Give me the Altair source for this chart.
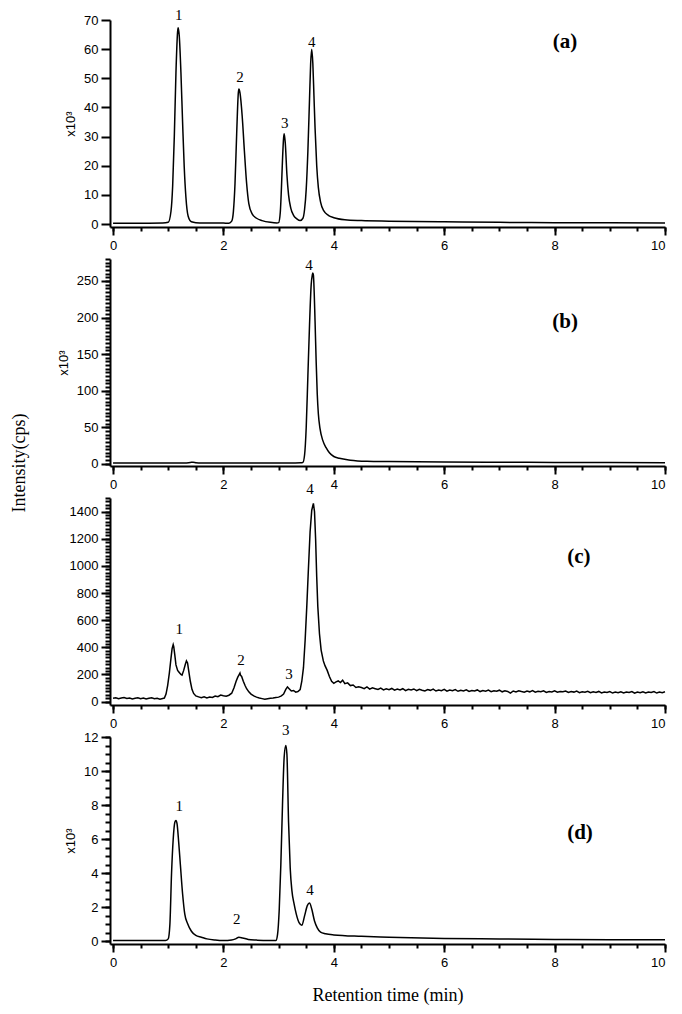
import altair as alt
import pandas as pd

SANS = "Liberation Sans"
SERIF = "Liberation Serif"

# ---------------- panel (a), intensity x10^3 ----------------
a_time = [0, 0.5, 0.9, 1.0, 1.05, 1.08, 1.11, 1.14, 1.17, 1.18,
          1.20, 1.23, 1.26, 1.29, 1.32, 1.36, 1.42, 1.5, 1.7, 2.0,
          2.1, 2.15, 2.18, 2.21, 2.24, 2.27, 2.28, 2.30, 2.34, 2.38,
          2.42, 2.46, 2.52, 2.6, 2.7, 2.85, 2.97, 3.0, 3.03, 3.05,
          3.07, 3.09, 3.10, 3.12, 3.15, 3.18, 3.22, 3.27, 3.33, 3.39,
          3.44, 3.47, 3.50, 3.53, 3.56, 3.58, 3.60, 3.62, 3.64, 3.66,
          3.69, 3.72, 3.76, 3.82, 3.9, 4.0, 4.2, 4.5, 5.0, 6.0,
          7.0, 8.0, 9.0, 10.0]
a_int = [0.3, 0.3, 0.35, 0.6, 4.4, 13, 30, 52, 66, 67.3,
         64.5, 52, 35, 19.5, 9.3, 2.8, 0.8, 0.5, 0.4, 0.35,
         0.3, 1, 4.2, 14, 31, 45, 46.3, 45, 37, 25,
         14, 7, 3.5, 2.0, 1.2, 0.6, 0.4, 0.5, 4, 12,
         22, 29.5, 31, 28, 17, 10, 5.5, 3, 1.8, 1.2,
         2, 5, 12, 25, 43, 55, 60, 55, 44, 33,
         20, 12.5, 7.5, 4.5, 3.0, 2.2, 1.5, 1.2, 1.0, 0.8,
         0.6, 0.5, 0.45, 0.4]

# ---------------- panel (b), intensity x10^3 ----------------
b_time = [0, 0.5, 1.0, 1.3, 1.4, 1.45, 1.5, 1.6, 2.0, 2.5,
          3.0, 3.3, 3.4, 3.44, 3.47, 3.50, 3.53, 3.56, 3.59, 3.61,
          3.62, 3.63, 3.66, 3.68, 3.70, 3.72, 3.75, 3.80, 3.86, 3.92,
          4.0, 4.1, 4.3, 4.6, 5.0, 6.0, 7.0, 8.0, 9.0, 10.0]
b_int = [1, 1, 1, 1.1, 1.8, 2.2, 1.6, 1.1, 1, 1,
         1, 1.1, 1.3, 2, 12, 50, 120, 190, 245, 258,
         261, 258, 195, 140, 95, 68, 48, 32, 22, 15,
         10, 7.5, 5, 3.5, 3, 2.4, 2.1, 1.9, 1.7, 1.5]

# ---------------- panel (c), intensity cps (noisy) ----------------
c1_time = [0.00, 0.05, 0.10, 0.15, 0.20, 0.25, 0.30, 0.35, 0.40, 0.45,
           0.50, 0.55, 0.60, 0.65, 0.70, 0.75, 0.80, 0.85, 0.90]
c1_int = [24, 28, 21, 26, 30, 23, 27, 20, 25, 29,
          22, 26, 19, 24, 28, 21, 25, 18, 23]
c2_time = [0.93, 0.96, 0.99, 1.02, 1.05, 1.07, 1.09, 1.10, 1.12, 1.14,
           1.17, 1.20, 1.23, 1.25, 1.28, 1.31, 1.33, 1.35, 1.37, 1.40,
           1.43, 1.46, 1.50, 1.55, 1.60, 1.65, 1.70, 1.75, 1.80, 1.85,
           1.90, 1.95, 2.00, 2.05, 2.10, 2.15, 2.19, 2.23, 2.26, 2.28,
           2.30, 2.31, 2.33, 2.36, 2.39, 2.42, 2.46, 2.50, 2.55, 2.60,
           2.65, 2.70, 2.75, 2.80, 2.85, 2.90, 2.95, 3.00, 3.05, 3.09,
           3.13, 3.16, 3.19, 3.23, 3.27, 3.31, 3.35, 3.39, 3.42, 3.45,
           3.48, 3.51, 3.54, 3.57, 3.60, 3.63, 3.65, 3.67, 3.69, 3.71,
           3.74, 3.77, 3.81, 3.84, 3.88, 3.92, 3.96, 4.00, 4.04, 4.08,
           4.12, 4.16, 4.20, 4.25, 4.30, 4.35, 4.40, 4.45]
c2_int = [26, 55, 120, 210, 320, 390, 420, 405, 340, 270,
          230, 215, 200, 195, 230, 275, 300, 285, 230, 150,
          90, 60, 42, 35, 28, 36, 27, 33, 30, 41,
          36, 48, 43, 40, 47, 62, 100, 150, 180, 195,
          210, 195, 185, 150, 120, 95, 72, 55, 42, 33,
          26, 22, 17, 21, 24, 27, 31, 33, 42, 55,
          90, 108, 95, 78, 82, 70, 74, 88, 150, 250,
          450, 700, 980, 1250, 1410, 1460, 1400, 1200, 920, 700,
          500, 380, 300, 265, 230, 185, 150, 135, 145, 152,
          140, 158, 132, 138, 118, 122, 104, 110]
c3_time = [4.50, 4.55, 4.60, 4.65, 4.70, 4.75, 4.80, 4.85, 4.90, 4.95,
           5.00, 5.05, 5.10, 5.15, 5.20, 5.25, 5.30, 5.35, 5.40, 5.45,
           5.50, 5.55, 5.60, 5.65, 5.70, 5.75, 5.80, 5.85, 5.90, 5.95,
           6.00, 6.05, 6.10, 6.15, 6.20, 6.25, 6.30, 6.35, 6.40, 6.45,
           6.50, 6.55, 6.60, 6.65, 6.70, 6.75, 6.80, 6.85, 6.90, 6.95,
           7.00, 7.05, 7.10, 7.15, 7.20, 7.25, 7.30, 7.35, 7.40, 7.45,
           7.50, 7.55, 7.60, 7.65, 7.70, 7.75, 7.80, 7.85, 7.90, 7.95,
           8.00, 8.05, 8.10, 8.15, 8.20, 8.25, 8.30, 8.35, 8.40, 8.45,
           8.50, 8.55, 8.60, 8.65, 8.70, 8.75, 8.80, 8.85, 8.90, 8.95,
           9.00, 9.05, 9.10, 9.15, 9.20, 9.25, 9.30, 9.35, 9.40, 9.45,
           9.50, 9.55, 9.60, 9.65, 9.70, 9.75, 9.80, 9.85, 9.90, 9.95,
           10.00]
c3_int = [104, 96, 108, 92, 101, 95, 89, 99, 86, 94,
          88, 97, 84, 92, 86, 95, 81, 90, 85, 93,
          80, 91, 84, 79, 89, 83, 92, 78, 86, 81,
          90, 77, 85, 80, 88, 76, 84, 79, 87, 75,
          82, 78, 86, 74, 81, 77, 85, 73, 80, 76,
          84, 72, 79, 75, 62, 78, 71, 80, 74, 69,
          78, 72, 81, 70, 76, 73, 80, 68, 75, 71,
          79, 69, 75, 72, 78, 67, 74, 70, 77, 66,
          73, 69, 76, 65, 72, 68, 75, 64, 71, 67,
          74, 63, 70, 66, 73, 64, 71, 67, 74, 62,
          70, 66, 73, 64, 71, 67, 74, 63, 70, 66,
          72]

# ---------------- panel (d), intensity x10^3 ----------------
d_time = [0, 0.5, 0.95, 1.00, 1.03, 1.06, 1.09, 1.12, 1.14, 1.16,
          1.19, 1.22, 1.26, 1.30, 1.35, 1.42, 1.5, 1.6, 1.7, 1.85,
          2.0, 2.15, 2.22, 2.28, 2.35, 2.45, 2.6, 2.8, 2.95, 2.98,
          3.01, 3.04, 3.07, 3.10, 3.13, 3.15, 3.18, 3.21, 3.24, 3.28,
          3.32, 3.37, 3.42, 3.47, 3.52, 3.56, 3.60, 3.65, 3.70, 3.76,
          3.85, 4.0, 4.5, 5.0, 6.0, 7.0, 8.0, 9.0, 10.0]
d_int = [0.05, 0.05, 0.05, 0.15, 1.0, 4.0, 6.0, 7.0, 7.1, 6.9,
         5.8, 4.5, 2.8, 1.6, 1.05, 0.6, 0.35, 0.25, 0.15, 0.08,
         0.05, 0.08, 0.15, 0.25, 0.2, 0.12, 0.08, 0.05, 0.05, 0.4,
         1.8, 4.5, 8, 10.8, 11.5, 11.0, 7, 4.3, 3.0, 2.2,
         1.6, 1.1, 0.95, 1.5, 2.1, 2.25, 1.9, 1.2, 0.8, 0.55,
         0.45, 0.38, 0.3, 0.25, 0.18, 0.15, 0.12, 0.1, 0.1]

# ---------------- peak labels ----------------
a_lab_text = ["1", "2", "3", "4"]
a_lab_time = [1.19, 2.30, 3.11, 3.60]
a_lab_int = [71.7, 50.4, 34.6, 62.5]
b_lab_text = ["4"]
b_lab_time = [3.55]
b_lab_int = [272]
c_lab_text = ["1", "2", "3", "4"]
c_lab_time = [1.20, 2.32, 3.19, 3.57]
c_lab_int = [533, 304, 207, 1563]
d_lab_text = ["1", "2", "3", "4"]
d_lab_time = [1.20, 2.24, 3.13, 3.57]
d_lab_int = [7.96, 1.3, 12.4, 3.04]

panel_letters = ["(a)", "(b)", "(c)", "(d)"]
letter_time = [8.19, 8.19, 8.44, 8.46]
letter_int = [62.5, 194, 1068, 6.35]

# ---------------- axes ----------------
x_major = [0, 2, 4, 6, 8, 10]
x_minor = [0, 0.5, 1, 1.5, 2, 2.5, 3, 3.5, 4, 4.5, 5, 5.5, 6, 6.5, 7, 7.5, 8, 8.5, 9, 9.5, 10]
a_ymajor = [0, 10, 20, 30, 40, 50, 60, 70]
b_ymajor = [0, 50, 100, 150, 200, 250]
b_yminor = list(range(0, 281, 5))
c_ymajor = [0, 200, 400, 600, 800, 1000, 1200, 1400]
c_yminor = list(range(0, 1501, 25))
d_ymajor = [0, 2, 4, 6, 8, 10, 12]
d_yminor = [i / 2 for i in range(25)]

XDOM = [-0.055, 10]
W = 555


def panel(time, inten, interp, ydom, ymajor, yminor, ytitle,
          lab_text, lab_t, lab_v, letter, let_t, let_v, height,
          xtitle=None, extra=None):
    df = pd.DataFrame({"t": time, "v": inten})
    xs = alt.Scale(domain=XDOM, nice=False, zero=False)
    ys = alt.Scale(domain=ydom, nice=False, zero=False)
    xax = dict(values=x_major, format="d", tickSize=8, labelPadding=4,
               orient="bottom", labelFont=SANS, labelFontSize=13, grid=False)
    if xtitle:
        xax.update(title=xtitle, titleFont=SERIF, titleFontSize=18,
                   titleFontWeight="normal", titlePadding=17)
    else:
        xax["title"] = None
    yax = dict(values=ymajor, format="d", tickSize=9, labelPadding=3,
               orient="left", labelFont=SANS, labelFontSize=13, grid=False)
    if ytitle:
        yax.update(title=ytitle, titleFont=SANS, titleFontSize=13,
                   titleFontWeight="normal", titlePadding=6)
    else:
        yax["title"] = None

    line = alt.Chart(df).mark_line(color="black", strokeWidth=1.5,
                                   interpolate=interp).encode(
        x=alt.X("t:Q", scale=xs, axis=alt.Axis(**xax)),
        y=alt.Y("v:Q", scale=ys, axis=alt.Axis(**yax)),
    )
    if yminor:
        minor_y = alt.Axis(values=yminor, labels=False, tickSize=5, domain=False,
                           title=None, orient="left", grid=False)
    else:
        minor_y = None
    minor = alt.Chart(df).mark_line(opacity=0).encode(
        x=alt.X("t:Q", scale=xs,
                axis=alt.Axis(values=x_minor, labels=False, tickSize=4, domain=False,
                              title=None, orient="bottom", grid=False)),
        y=alt.Y("v:Q", scale=ys, axis=minor_y),
    )
    ldf = pd.DataFrame({"t": lab_t, "v": lab_v, "s": lab_text})
    labels = alt.Chart(ldf).mark_text(font=SERIF, fontSize=15, color="black",
                                      baseline="middle", align="center").encode(
        x=alt.X("t:Q", scale=xs, axis=None),
        y=alt.Y("v:Q", scale=ys, axis=None),
        text="s:N",
    )
    lt = pd.DataFrame({"t": [let_t], "v": [let_v], "s": [letter]})
    let = alt.Chart(lt).mark_text(font=SERIF, fontSize=21, fontWeight="bold",
                                  color="black", baseline="middle",
                                  align="center").encode(
        x=alt.X("t:Q", scale=xs, axis=None),
        y=alt.Y("v:Q", scale=ys, axis=None),
        text="s:N",
    )
    layers = [line, minor, labels, let] + (extra or [])
    return alt.layer(*layers).resolve_axis(x="independent", y="independent").properties(
        width=W, height=height)


H = 207
SP = 32

ytitle_df = pd.DataFrame({"s": ["Intensity(cps)"]})
ytitle_mark = alt.Chart(ytitle_df).mark_text(
    font=SERIF, fontSize=18, angle=270, color="black",
    baseline="middle", align="center").encode(
    x=alt.value(-90), y=alt.value(204), text="s:N")

pa = panel(a_time, a_int, "monotone", [-1, 70], a_ymajor, None, "x10³",
           a_lab_text, a_lab_time, a_lab_int,
           panel_letters[0], letter_time[0], letter_int[0], H)
pb = panel(b_time, b_int, "monotone", [-3, 280], b_ymajor, b_yminor, "x10³",
           b_lab_text, b_lab_time, b_lab_int,
           panel_letters[1], letter_time[1], letter_int[1], H,
           extra=[ytitle_mark])
pc = panel(c1_time + c2_time + c3_time, c1_int + c2_int + c3_int, "linear",
           [-25, 1500], c_ymajor, c_yminor, None,
           c_lab_text, c_lab_time, c_lab_int,
           panel_letters[2], letter_time[2], letter_int[2], H)
pd_ = panel(d_time, d_int, "monotone", [-0.15, 12], d_ymajor, d_yminor, "x10³",
            d_lab_text, d_lab_time, d_lab_int,
            panel_letters[3], letter_time[3], letter_int[3], H,
            xtitle="Retention time (min)")

chart = alt.vconcat(pa, pb, pc, pd_, spacing=SP, bounds="flush").properties(
    padding={"left": 3, "top": 0, "right": 5, "bottom": 5}
).configure_view(stroke=None).configure_axis(
    grid=False, domainColor="black", tickColor="black", labelColor="black",
    titleColor="black", domainWidth=2, tickWidth=2
)

chart.save("out.html", embed_options={"renderer": "svg", "actions": False})
